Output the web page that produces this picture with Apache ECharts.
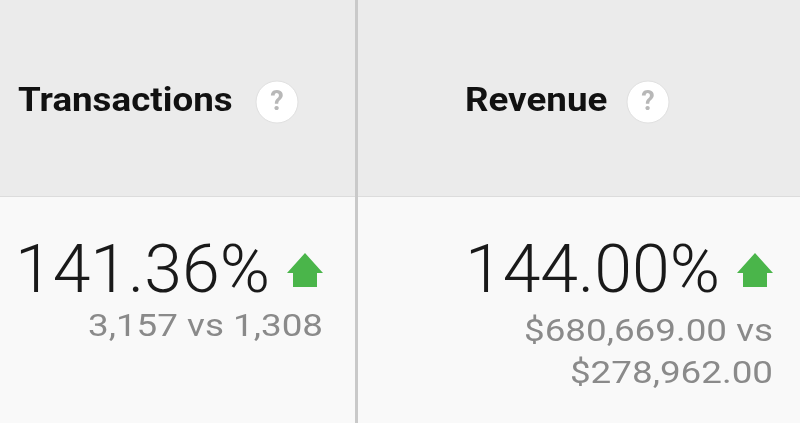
<!DOCTYPE html>
<html>
<head>
<meta charset="utf-8">
<style>
  html, body { margin: 0; padding: 0; background: #f9f9f9; }
  #main { width: 800px; height: 423px; }
</style>
</head>
<body>
<div id="main"></div>
<script src="https://cdn.jsdelivr.net/npm/echarts@6/dist/echarts.min.js"></script>
<script type="text/javascript">
    // metric data
    var metrics = ['Transactions', 'Revenue'];
    var changePct = ['141.36%', '144.00%'];
    var currentVals = ['3,157', '$680,669.00'];
    var previousVals = ['1,308', '$278,962.00'];
    var wrapCompare = [false, true];

    // column layout
    var colLeft = [18, 465];
    var colRight = [323, 773];
    var helpX = [277, 648];

    var myChart = echarts.init(document.getElementById('main'));
    var font = 'Roboto, "Open Sans", sans-serif';
    var elements = [
        { type: 'rect', shape: { x: 0, y: 0, width: 800, height: 196 }, style: { fill: '#ebebeb' } },
        { type: 'rect', shape: { x: 0, y: 196, width: 800, height: 1 }, style: { fill: '#dcdcdc' } },
        { type: 'rect', shape: { x: 355, y: 0, width: 3, height: 423 }, style: { fill: '#c9c9c9' } }
    ];

    metrics.forEach(function (name, i) {
        var r = colRight[i];
        // header
        elements.push({
            type: 'text', x: colLeft[i], y: 102, scaleX: 1.08,
            style: { text: name, font: 'bold 34px ' + font, fill: '#111', verticalAlign: 'middle' }
        });
        elements.push({
            type: 'circle', shape: { cx: helpX[i], cy: 102, r: 21 },
            style: { fill: '#fff', stroke: '#e0e0e0', lineWidth: 1 }
        });
        elements.push({
            type: 'text', x: helpX[i], y: 103,
            style: { text: '?', font: 'bold 27px ' + font, fill: '#b8b8b8', align: 'center', verticalAlign: 'middle' }
        });
        // up arrow
        elements.push({
            type: 'polygon',
            shape: { points: [[r - 18, 253], [r, 273], [r - 6, 273], [r - 6, 287], [r - 30, 287], [r - 30, 273], [r - 36, 273]] },
            style: { fill: '#4ab54a' }
        });
        // change value
        elements.push({
            type: 'text', x: r - 53, y: 275, scaleX: 1.03,
            style: { text: changePct[i], font: '300 66px ' + font, fill: '#1a1a1a', align: 'right', verticalAlign: 'middle' }
        });
        // compare text
        var lines = wrapCompare[i]
            ? [currentVals[i] + ' vs', previousVals[i]]
            : [currentVals[i] + ' vs ' + previousVals[i]];
        lines.forEach(function (t, k) {
            elements.push({
                type: 'text', x: r, y: (wrapCompare[i] ? 333 : 328) + k * 42, scaleX: 1.15,
                style: { text: t, font: '32px ' + font, fill: '#8a8a8a', align: 'right', verticalAlign: 'middle' }
            });
        });
    });

    var option = {
        backgroundColor: '#f9f9f9',
        graphic: { elements: elements }
    };
    myChart.setOption(option);
</script>
</body>
</html>
